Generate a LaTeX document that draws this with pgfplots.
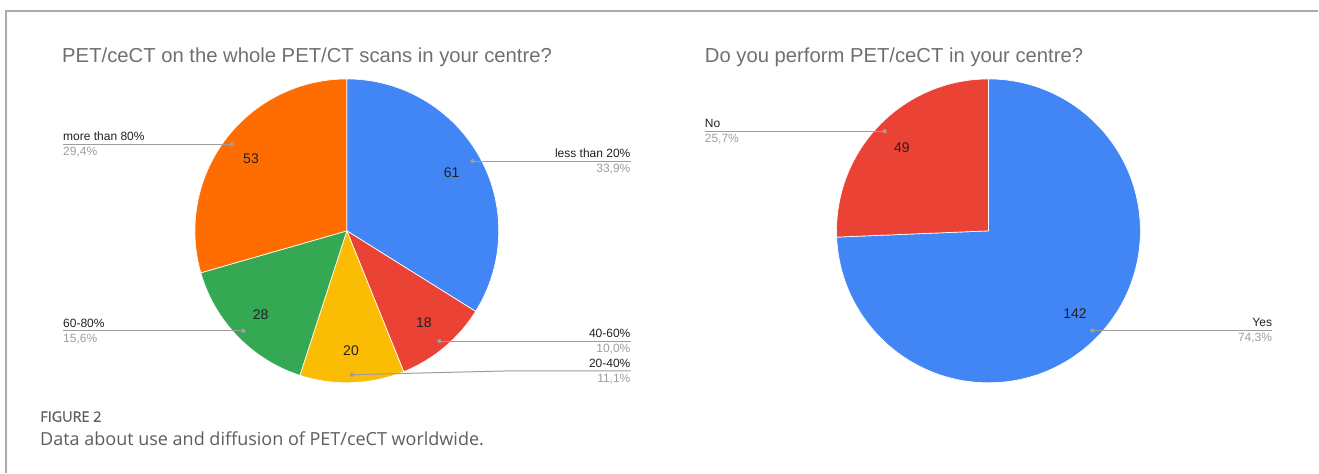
\documentclass[border=0pt]{standalone}
\usepackage{fontspec}
\setmainfont{Liberation Sans}
\newfontfamily\capfont{Open Sans}
\newfontfamily\capsemi[FakeBold=0.8]{Open Sans}
\usepackage{pgfplots}
\usepackage{pgfplotstable}
\pgfplotsset{compat=1.18}
\definecolor{gblue}{HTML}{4285F4}
\definecolor{gred}{HTML}{EA4335}
\definecolor{gyellow}{HTML}{FBBC04}
\definecolor{ggreen}{HTML}{34A853}
\definecolor{gorange}{HTML}{FF6D01}
\definecolor{titlegray}{HTML}{707070}
\definecolor{namecol}{HTML}{222222}
\definecolor{pctcol}{HTML}{9E9E9E}
\definecolor{leadcol}{HTML}{9E9E9E}
\definecolor{framecol}{HTML}{AAAAAA}
\definecolor{capcol}{HTML}{5E5E5E}
\tikzset{
  namestyle/.style={text=namecol, inner sep=0pt, font=\fontsize{9}{11}\selectfont, yshift=2.7pt},
  pctstyle/.style={text=pctcol, inner sep=0pt, font=\fontsize{9}{11}\selectfont, yshift=-8.6pt},
  valstyle/.style={text=namecol, inner sep=0pt, font=\fontsize{10.5}{12}\selectfont},
  leader/.style={draw=leadcol, line width=0.75pt}}
\pgfkeys{/pgf/number format/.cd, fixed, precision=1, zerofill, use comma, assume math mode=true}
\newcommand\slice[4]{\fill[#4, draw=white, line width=0.5pt] (#1) -- ++(#2:114pt) arc[start angle=#2, end angle=#3, radius=114pt] -- cycle;}
\begin{document}
\begin{tikzpicture}
\pgfplotstableread{
cat n
less20 61
40to60 18
20to40 20
60to80 28
more80 53
}\leftdata
\pgfplotstableread{
cat n
Yes 142
No 49
}\rightdata
\pgfplotstablegetelem{0}{n}\of\leftdata\let\LnA\pgfplotsretval
\pgfplotstablegetelem{1}{n}\of\leftdata\let\LnB\pgfplotsretval
\pgfplotstablegetelem{2}{n}\of\leftdata\let\LnC\pgfplotsretval
\pgfplotstablegetelem{3}{n}\of\leftdata\let\LnD\pgfplotsretval
\pgfplotstablegetelem{4}{n}\of\leftdata\let\LnE\pgfplotsretval
\pgfplotstablegetelem{0}{n}\of\rightdata\let\RnA\pgfplotsretval
\pgfplotstablegetelem{1}{n}\of\rightdata\let\RnB\pgfplotsretval
\pgfmathsetmacro\LT{\LnA+\LnB+\LnC+\LnD+\LnE}
\pgfmathsetmacro\LaA{90}
\pgfmathsetmacro\LaB{\LaA-360*(\LnA/\LT)}
\pgfmathsetmacro\LaC{\LaB-360*(\LnB/\LT)}
\pgfmathsetmacro\LaD{\LaC-360*(\LnC/\LT)}
\pgfmathsetmacro\LaE{\LaD-360*(\LnD/\LT)}
\pgfmathsetmacro\LaF{\LaE-360*(\LnE/\LT)}
\pgfmathsetmacro\LmA{(\LaA+\LaB)/2}
\pgfmathsetmacro\LmB{(\LaB+\LaC)/2}
\pgfmathsetmacro\LmC{(\LaC+\LaD)/2}
\pgfmathsetmacro\LmD{(\LaD+\LaE)/2}
\pgfmathsetmacro\LmE{(\LaE+\LaF)/2}
\pgfmathsetmacro\LpA{100*(\LnA/\LT)}
\pgfmathsetmacro\LpB{100*(\LnB/\LT)}
\pgfmathsetmacro\LpC{100*(\LnC/\LT)}
\pgfmathsetmacro\LpD{100*(\LnD/\LT)}
\pgfmathsetmacro\LpE{100*(\LnE/\LT)}
\pgfmathsetmacro\RT{\RnA+\RnB}
\pgfmathsetmacro\RaA{90}
\pgfmathsetmacro\RaB{\RaA-360*(\RnA/\RT)}
\pgfmathsetmacro\RaC{\RaB-360*(\RnB/\RT)}
\pgfmathsetmacro\RmA{(\RaA+\RaB)/2}
\pgfmathsetmacro\RmB{(\RaB+\RaC)/2}
\pgfmathsetmacro\RpA{100*(\RnA/\RT)}
\pgfmathsetmacro\RpB{100*(\RnB/\RT)}
\begin{axis}[x=0.75pt, y=0.75pt, xmin=0, xmax=1319, ymin=0, ymax=473,
  hide axis, clip=false, scale only axis]
\fill[white] (axis cs:0,0) rectangle (axis cs:1319,473);
\draw[framecol, line width=1.1pt] (axis cs:6,0) -- (axis cs:6,462) -- (axis cs:1319,462);
% titles
\node[anchor=base west, inner sep=0pt, text=titlegray, font=\fontsize{15.2}{18}\selectfont] at (axis cs:62,410) {PET/ceCT on the whole PET/CT scans in your centre?};
\node[anchor=base west, inner sep=0pt, text=titlegray, font=\fontsize{15.2}{18}\selectfont] at (axis cs:705,410) {Do you perform PET/ceCT in your centre?};
% left pie
\coordinate (LC) at (axis cs:347,242);
\coordinate (xLl) at (axis cs:63,0);
\coordinate (xLr) at (axis cs:631,0);
\slice{LC}{\LaA}{\LaB}{gblue}
\slice{LC}{\LaB}{\LaC}{gred}
\slice{LC}{\LaC}{\LaD}{gyellow}
\slice{LC}{\LaD}{\LaE}{ggreen}
\slice{LC}{\LaE}{\LaF}{gorange}
\path (LC) ++(\LmA:90pt) node[valstyle] {\LnA};
\path (LC) ++(\LmB:90pt) node[valstyle] {\LnB};
\path (LC) ++(\LmC:90pt) node[valstyle] {\LnC};
\path (LC) ++(\LmD:90pt) node[valstyle] {\LnD};
\path (LC) ++(\LmE:90pt) node[valstyle] {\LnE};
\path (LC) ++(\LmA:108pt) coordinate (dA);
\path (LC) ++(\LmB:108pt) coordinate (dB);
\path (LC) ++(\LmC:108pt) coordinate (dC);
\path (LC) ++(\LmD:108pt) coordinate (dD);
\path (LC) ++(\LmE:108pt) coordinate (dE);
\draw[leader] (dA) -- (dA -| xLr);
\draw[leader] (dB) -- (dB -| xLr);
\draw[leader] (dC) -- (axis cs:513,102) -- (axis cs:631,102);
\draw[leader] (dD) -- (dD -| xLl);
\draw[leader] (dE) -- (dE -| xLl);
\fill[leadcol] (dA) circle (1.6pt);
\fill[leadcol] (dB) circle (1.6pt);
\fill[leadcol] (dC) circle (1.6pt);
\fill[leadcol] (dD) circle (1.6pt);
\fill[leadcol] (dE) circle (1.6pt);
\node[namestyle, anchor=base east] at (dA -| xLr) {less than 20\%};
\node[pctstyle, anchor=base east] at (dA -| xLr) {\pgfmathprintnumber{\LpA}\%};
\node[namestyle, anchor=base east] at (dB -| xLr) {40-60\%};
\node[pctstyle, anchor=base east] at (dB -| xLr) {\pgfmathprintnumber{\LpB}\%};
\node[namestyle, anchor=base east] at (axis cs:631,102) {20-40\%};
\node[pctstyle, anchor=base east] at (axis cs:631,102) {\pgfmathprintnumber{\LpC}\%};
\node[namestyle, anchor=base west] at (dD -| xLl) {60-80\%};
\node[pctstyle, anchor=base west] at (dD -| xLl) {\pgfmathprintnumber{\LpD}\%};
\node[namestyle, anchor=base west] at (dE -| xLl) {more than 80\%};
\node[pctstyle, anchor=base west] at (dE -| xLl) {\pgfmathprintnumber{\LpE}\%};
% right pie
\coordinate (RC) at (axis cs:989,242);
\coordinate (xRl) at (axis cs:705,0);
\coordinate (xRr) at (axis cs:1273,0);
\slice{RC}{\RaA}{\RaB}{gblue}
\slice{RC}{\RaB}{\RaC}{gred}
\path (RC) ++(\RmA:90pt) node[valstyle] {\RnA};
\path (RC) ++(\RmB:90pt) node[valstyle] {\RnB};
\path (RC) ++(\RmA:108pt) coordinate (eA);
\path (RC) ++(\RmB:108pt) coordinate (eB);
\draw[leader] (eA) -- (eA -| xRr);
\draw[leader] (eB) -- (eB -| xRl);
\fill[leadcol] (eA) circle (1.6pt);
\fill[leadcol] (eB) circle (1.6pt);
\node[namestyle, anchor=base east] at (eA -| xRr) {Yes};
\node[pctstyle, anchor=base east] at (eA -| xRr) {\pgfmathprintnumber{\RpA}\%};
\node[namestyle, anchor=base west] at (eB -| xRl) {No};
\node[pctstyle, anchor=base west] at (eB -| xRl) {\pgfmathprintnumber{\RpB}\%};
% caption
\node[anchor=base west, inner sep=0pt, text=capcol, font=\capsemi\fontsize{10.8}{12}\selectfont] at (axis cs:40,51) {FIGURE 2};
\node[anchor=base west, inner sep=0pt, text=capcol, font=\capfont\fontsize{13.5}{16}\selectfont] at (axis cs:40,27.5) {Data about use and diffusion of PET/ceCT worldwide.};
\end{axis}
\end{tikzpicture}
\end{document}
